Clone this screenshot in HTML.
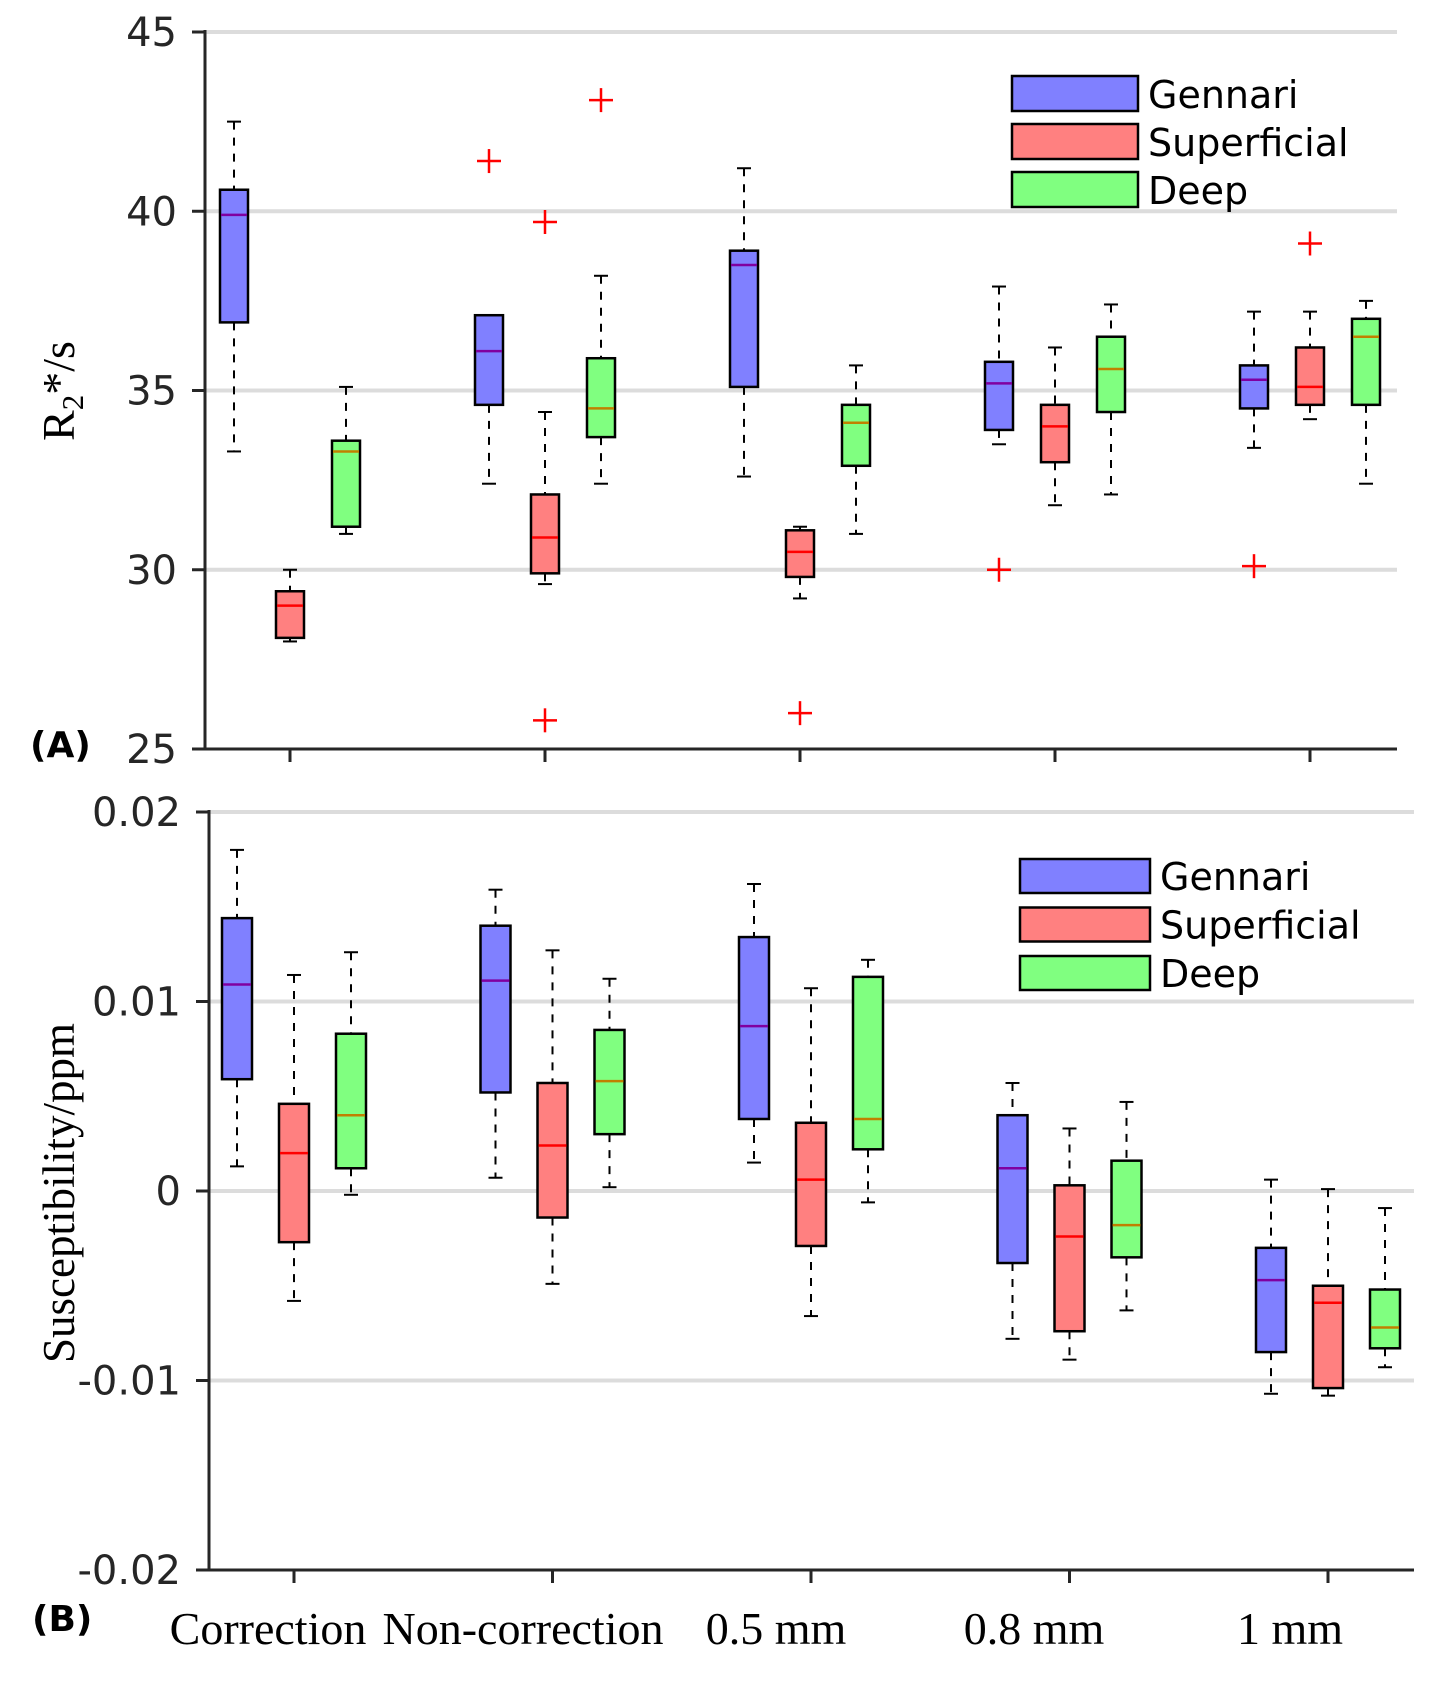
<!DOCTYPE html>
<html><head><meta charset="utf-8"><style>
body{margin:0;background:#fff}
</style></head><body>
<svg id="chart" width="1440" height="1681" xmlns="http://www.w3.org/2000/svg" style="position:absolute;left:0;top:0;font-family:'DejaVu Sans','Liberation Sans',sans-serif"></svg>
<script>
const categories=["Correction","Non-correction","0.5 mm","0.8 mm","1 mm"];
const seriesNames=["Gennari","Superficial","Deep"];
// [lowWhisker, q1, median, q3, highWhisker]
const r2Gennari=[[33.3,36.9,39.9,40.6,42.5],[32.4,34.6,36.1,37.1,37.1],[32.6,35.1,38.5,38.9,41.2],[33.5,33.9,35.2,35.8,37.9],[33.4,34.5,35.3,35.7,37.2]];
const r2Superficial=[[28.0,28.1,29.0,29.4,30.0],[29.6,29.9,30.9,32.1,34.4],[29.2,29.8,30.5,31.1,31.2],[31.8,33.0,34.0,34.6,36.2],[34.2,34.6,35.1,36.2,37.2]];
const r2Deep=[[31.0,31.2,33.3,33.6,35.1],[32.4,33.7,34.5,35.9,38.2],[31.0,32.9,34.1,34.6,35.7],[32.1,34.4,35.6,36.5,37.4],[32.4,34.6,36.5,37.0,37.5]];
// outliers [categoryIndex, seriesIndex, value]
const r2Outliers=[[1,0,41.4],[1,1,39.7],[1,1,25.8],[1,2,43.1],[2,1,26.0],[3,0,30.0],[4,0,30.1],[4,1,39.1]];
const r2Ticks=[25,30,35,40,45];
const chiGennari=[[0.0013,0.0059,0.0109,0.0144,0.0180],[0.0007,0.0052,0.0111,0.0140,0.0159],[0.0015,0.0038,0.0087,0.0134,0.0162],[-0.0078,-0.0038,0.0012,0.0040,0.0057],[-0.0107,-0.0085,-0.0047,-0.0030,0.0006]];
const chiSuperficial=[[-0.0058,-0.0027,0.0020,0.0046,0.0114],[-0.0049,-0.0014,0.0024,0.0057,0.0127],[-0.0066,-0.0029,0.0006,0.0036,0.0107],[-0.0089,-0.0074,-0.0024,0.0003,0.0033],[-0.0108,-0.0104,-0.0059,-0.0050,0.0001]];
const chiDeep=[[-0.0002,0.0012,0.0040,0.0083,0.0126],[0.0002,0.0030,0.0058,0.0085,0.0112],[-0.0006,0.0022,0.0038,0.0113,0.0122],[-0.0063,-0.0035,-0.0018,0.0016,0.0047],[-0.0093,-0.0083,-0.0072,-0.0052,-0.0009]];
const chiOutliers=[];
const chiTicks=[-0.02,-0.01,0,0.01,0.02];
const chiTickLabels=["-0.02","-0.01","0","0.01","0.02"];

const NS="http://www.w3.org/2000/svg";
const svg=document.getElementById('chart');
function el(tag,attrs,parent){const e=document.createElementNS(NS,tag);for(const k in attrs)e.setAttribute(k,attrs[k]);(parent||svg).appendChild(e);return e;}
const fills=["#8080ff","#ff8080","#80ff80"];
const medCols=["#8000a0","#ff0000","#c08000"];

function panel(cfg){
  const g=el('g',{});
  
  
  const y=v=>cfg.y0+(v-cfg.vmin)/(cfg.vmax-cfg.vmin)*(cfg.y1-cfg.y0);
  const x=i=>cfg.cx0+i*cfg.step;
  cfg.ticks.forEach((t,i)=>{
    if(t!==cfg.vmin){const gl=el('line',{x1:cfg.ax,x2:cfg.right,y1:y(t),y2:y(t),stroke:'#dcdcdc','stroke-width':4},g);
    }
    const tk=el('line',{x1:cfg.ax-13,x2:cfg.ax,y1:y(t),y2:y(t),stroke:'#262626','stroke-width':3},g);
    
    const tl=el('text',{x:cfg.ax-28,y:y(t)+14,'font-size':40,'text-anchor':'end',fill:'#262626'},g);
    tl.textContent=cfg.labels[i];
    
  });
  const ya=el('line',{x1:cfg.ax,x2:cfg.ax,y1:cfg.y1-2,y2:cfg.y0+1.5,stroke:'#262626','stroke-width':3},g);
  
  const xa=el('line',{x1:cfg.ax-13,x2:cfg.right,y1:cfg.y0,y2:cfg.y0,stroke:'#262626','stroke-width':3},g);
  
  categories.forEach((c,i)=>{
    const t=el('line',{x1:x(i),x2:x(i),y1:cfg.y0,y2:cfg.y0+13,stroke:'#262626','stroke-width':3},g);
    
  });
  cfg.series.forEach((s,si)=>{
    s.forEach((d,ci)=>{
      const cx=x(ci)+(si-1)*cfg.off, w=cfg.bw;
      const bg=el('g',{},g);
      
      
      el('line',{x1:cx,x2:cx,y1:y(d[4]),y2:y(d[3]),stroke:'#000','stroke-width':2,'stroke-dasharray':'8,8'},bg);
      el('line',{x1:cx,x2:cx,y1:y(d[1]),y2:y(d[0]),stroke:'#000','stroke-width':2,'stroke-dasharray':'8,8'},bg);
      el('line',{x1:cx-7,x2:cx+7,y1:y(d[4]),y2:y(d[4]),stroke:'#000','stroke-width':2},bg);
      el('line',{x1:cx-7,x2:cx+7,y1:y(d[0]),y2:y(d[0]),stroke:'#000','stroke-width':2},bg);
      el('rect',{x:cx-w/2,y:y(d[3]),width:w,height:y(d[1])-y(d[3]),fill:fills[si],stroke:'#000','stroke-width':2.5},bg);
      el('line',{x1:cx-w/2+1,x2:cx+w/2-1,y1:y(d[2]),y2:y(d[2]),stroke:medCols[si],'stroke-width':2.5},bg);
    });
  });
  cfg.outliers.forEach(o=>{
    const cx=x(o[0])+(o[1]-1)*cfg.off, cy=y(o[2]);
    const og=el('g',{},g);
    
    el('line',{x1:cx-12,x2:cx+12,y1:cy,y2:cy,stroke:'#ff0000','stroke-width':2.5},og);
    el('line',{x1:cx,x2:cx,y1:cy-12,y2:cy+12,stroke:'#ff0000','stroke-width':2.5},og);
  });
  const lg=el('g',{},g);
  
  seriesNames.forEach((n,i)=>{
    const e=el('g',{},lg);
    
    const ty=cfg.legY+i*cfg.legStep;
    el('rect',{x:cfg.legX,y:ty,width:cfg.legW,height:cfg.legH,fill:fills[i],stroke:'#000','stroke-width':2.5},e);
    const t=el('text',{x:cfg.legX+cfg.legW+10,y:ty+cfg.legH-3,'font-size':38,fill:'#000'},e);
    t.textContent=n;
  });
}
panel({name:'r2-panel',y0:749,y1:32,vmin:25,vmax:45,ax:205,right:1397,cx0:290,step:255,off:56,bw:28,
  ticks:r2Ticks,labels:r2Ticks.map(String),series:[r2Gennari,r2Superficial,r2Deep],outliers:r2Outliers,
  legX:1012,legY:76,legStep:48,legW:126,legH:35});
panel({name:'susceptibility-panel',y0:1570,y1:812,vmin:-0.02,vmax:0.02,ax:209,right:1414,cx0:294,step:258.5,off:57,bw:30,
  ticks:chiTicks,labels:chiTickLabels,series:[chiGennari,chiSuperficial,chiDeep],outliers:chiOutliers,
  legX:1020,legY:859,legStep:48.5,legW:130,legH:34});
</script>
<svg width="1440" height="1681" xmlns="http://www.w3.org/2000/svg" style="position:absolute;left:0;top:0">
<text transform="translate(74,391) rotate(-90)" text-anchor="middle" style="font-family:'Liberation Serif',serif;font-size:46px">R<tspan style="font-size:31px" dy="9">2</tspan><tspan dy="-9">*/s</tspan></text>
<text transform="translate(74,1193) rotate(-90)" text-anchor="middle" style="font-family:'Liberation Serif',serif;font-size:45px">Susceptibility/ppm</text>
<text x="30" y="757" style="font-family:'DejaVu Sans',sans-serif;font-weight:bold;font-size:36px">(A)</text>
<text x="32" y="1631" style="font-family:'DejaVu Sans',sans-serif;font-weight:bold;font-size:36px">(B)</text>
<g style="font-family:'Liberation Serif',serif;font-size:46px" text-anchor="middle" fill="#000">
<text x="268" y="1644">Correction</text>
<text x="523" y="1644">Non-correction</text>
<text x="776" y="1644">0.5 mm</text>
<text x="1034" y="1644">0.8 mm</text>
<text x="1290" y="1644">1 mm</text>
</g>
</svg>
</body></html>
